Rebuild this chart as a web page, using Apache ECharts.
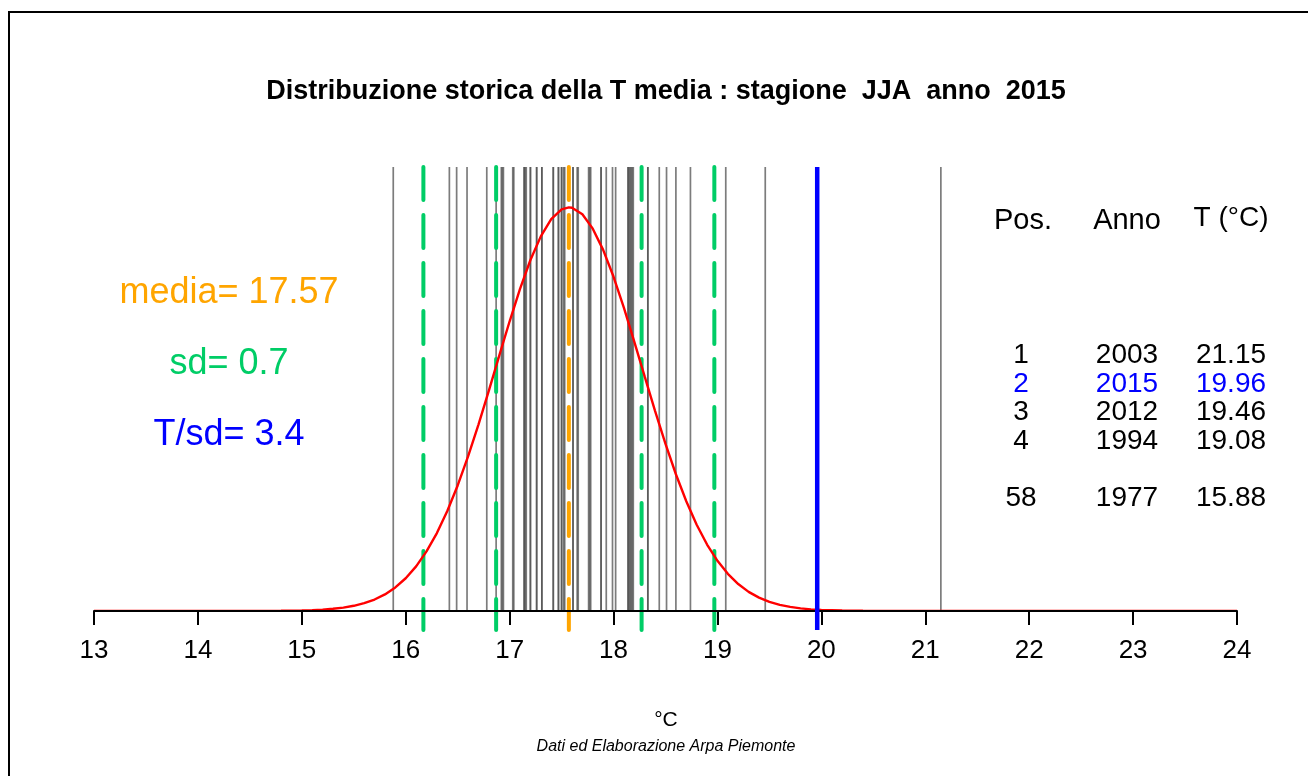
<!DOCTYPE html>
<html>
<head>
<meta charset="utf-8">
<script src="https://cdn.jsdelivr.net/npm/echarts@6/dist/echarts.min.js"></script>
<style>html,body{margin:0;padding:0;background:#fff;}#c{width:1308px;height:776px;}</style>
</head>
<body>
<div id="c"></div>
<script>
// ---- data ----
const xTicks = [13, 14, 15, 16, 17, 18, 19, 20, 21, 22, 23, 24];
const tempValues = [
  15.88, 16.42, 16.49, 16.59, 16.78, 16.87, 16.92, 16.93, 16.94, 17.03,
  17.04, 17.14, 17.14, 17.15, 17.16, 17.20, 17.20, 17.26, 17.26, 17.31,
  17.31, 17.42, 17.42, 17.47, 17.47, 17.50, 17.50, 17.52, 17.53, 17.61,
  17.61, 17.65, 17.66, 17.76, 17.77, 17.78, 17.88, 17.88, 17.93, 17.99,
  18.02, 18.14, 18.14, 18.15, 18.16, 18.17, 18.18, 18.19, 18.33, 18.33,
  18.44, 18.51, 18.60, 18.74, 19.08, 19.46, 19.96, 21.15
];
const curveX = [13, 14, 14.5, 14.8, 14.9, 15.0, 15.1, 15.2, 15.3, 15.4, 15.5, 15.6, 15.7, 15.8, 15.9,
  16.0, 16.1, 16.2, 16.3, 16.4, 16.5, 16.6, 16.7, 16.8, 16.9, 17.0, 17.1, 17.2, 17.3, 17.4, 17.5, 17.57,
  17.6, 17.7, 17.8, 17.9, 18.0, 18.1, 18.2, 18.3, 18.4, 18.5, 18.6, 18.7, 18.8, 18.9, 19.0, 19.1, 19.2,
  19.3, 19.4, 19.5, 19.6, 19.7, 19.8, 19.9, 20.0, 20.2, 20.4, 21, 22, 23, 24];
const curveY = [0, 0, 0.00004, 0.00023, 0.0004, 0.00067, 0.00113, 0.00185, 0.00297, 0.00467, 0.00719, 0.01086, 0.01607, 0.0233, 0.0331,
  0.0461, 0.0629, 0.0840, 0.1099, 0.1410, 0.1772, 0.2182, 0.2632, 0.3112, 0.3605, 0.4091, 0.4549, 0.4956, 0.5290, 0.5533, 0.5671, 0.5699,
  0.5694, 0.5602, 0.5399, 0.5099, 0.4719, 0.4279, 0.3801, 0.3308, 0.2822, 0.2358, 0.1930, 0.1548, 0.1217, 0.0937, 0.0707, 0.0523, 0.0379,
  0.0269, 0.0187, 0.0127, 0.0085, 0.0056, 0.0036, 0.0022, 0.0014, 0.0005, 0.0002, 0, 0, 0, 0];
const meanT = 17.57;
const sdT = 0.7;
const sdLines = [16.17, 16.87, 18.27, 18.97];
const currentT = 19.96;
const tRatio = 3.4;
const rankPos = ['1', '2', '3', '4', '58'];
const rankYear = ['2003', '2015', '2012', '1994', '1977'];
const rankTemp = ['21.15', '19.96', '19.46', '19.08', '15.88'];
const highlightYear = '2015';

// ---- chart ----
const Y_TOP = 0.627, Y_MIN = -0.027;
const FONT = '"Liberation Sans", Arial, Helvetica, sans-serif';

function vline(color, width, dash, fromMin) {
  return function (params, api) {
    const x = api.value(0);
    const p1 = api.coord([x, Y_TOP]);
    const p2 = api.coord([x, fromMin ? Y_MIN : 0]);
    return {
      type: 'line',
      shape: { x1: p1[0], y1: p1[1], x2: p2[0], y2: p2[1] },
      style: { stroke: color, lineWidth: width, lineDash: dash, lineCap: dash ? 'round' : 'butt' }
    };
  };
}

function txt(x, y, s, size, color) {
  return { type: 'text', x: x, y: y, style: { text: s, font: size + 'px ' + FONT, fill: color, align: 'center', verticalAlign: 'middle' } };
}

const rowYs = [355, 384, 412, 441, 498];
const tableTexts = [
  txt(1023, 221, 'Pos.', 29, '#000'),
  txt(1127, 221, 'Anno', 29, '#000'),
  txt(1231, 218, 'T (°C)', 28, '#000')
];
rankPos.forEach((p, i) => {
  const col = rankYear[i] === highlightYear ? '#0000FF' : '#000';
  tableTexts.push(txt(1021, rowYs[i], p, 28, col));
  tableTexts.push(txt(1127, rowYs[i], rankYear[i], 28, col));
  tableTexts.push(txt(1231, rowYs[i], rankTemp[i], 28, col));
});

const chart = echarts.init(document.getElementById('c'), null, { renderer: 'canvas' });
chart.setOption({
  backgroundColor: '#ffffff',
  animation: false,
  grid: { left: 94, right: 71, top: 167, bottom: 146 },
  xAxis: {
    type: 'value', min: xTicks[0], max: xTicks[xTicks.length - 1], interval: 1, z: 3.5,
    axisLine: { show: true, onZero: true, lineStyle: { color: '#000', width: 2 } },
    axisTick: { show: true, length: 14, lineStyle: { color: '#000', width: 2 } },
    axisLabel: { color: '#000', fontSize: 26, fontFamily: FONT, margin: 8 },
    splitLine: { show: false }
  },
  yAxis: { type: 'value', min: Y_MIN, max: Y_TOP, show: false, splitLine: { show: false } },
  series: [
    { type: 'custom', z: 1, silent: true, clip: false, renderItem: vline('rgba(80,80,80,0.75)', 1.7, null, false),
      data: tempValues.map(v => [v, 0]), encode: { x: 0, y: 1 } },
    { type: 'custom', z: 2, silent: true, clip: false, renderItem: vline('#00CD66', 4, [33, 15], true),
      data: sdLines.map(v => [v, 0]), encode: { x: 0, y: 1 } },
    { type: 'custom', z: 2, silent: true, clip: false, renderItem: vline('#FFA500', 4, [33, 15], true),
      data: [[meanT, 0]], encode: { x: 0, y: 1 } },
    { type: 'line', z: 3, silent: true, symbol: 'none', smooth: false,
      lineStyle: { color: '#FF0000', width: 2.4 },
      data: curveX.map((x, i) => [x, curveY[i]]) },
    { type: 'custom', z: 4, silent: true, clip: false, renderItem: vline('#0000FF', 4.5, null, true),
      data: [[currentT, 0]], encode: { x: 0, y: 1 } }
  ],
  graphic: [
    { type: 'rect', z: 100, shape: { x: 9, y: 12, width: 1400, height: 900 }, style: { fill: 'none', stroke: '#000', lineWidth: 2 } },
    { type: 'text', x: 666, y: 92, style: { text: 'Distribuzione storica della T media : stagione  JJA  anno  2015', font: 'bold 27px ' + FONT, fill: '#000', align: 'center', verticalAlign: 'middle' } },
    txt(229, 293, 'media= ' + meanT.toFixed(2), 36, '#FFA500'),
    txt(229, 364, 'sd= ' + sdT, 36, '#00CD66'),
    txt(229, 435, 'T/sd= ' + tRatio, 36, '#0000FF'),
    txt(666, 720, '°C', 21, '#000'),
    { type: 'text', x: 666, y: 747, style: { text: 'Dati ed Elaborazione Arpa Piemonte', font: 'italic 16px ' + FONT, fill: '#000', align: 'center', verticalAlign: 'middle' } }
  ].concat(tableTexts)
});
</script>
</body>
</html>
